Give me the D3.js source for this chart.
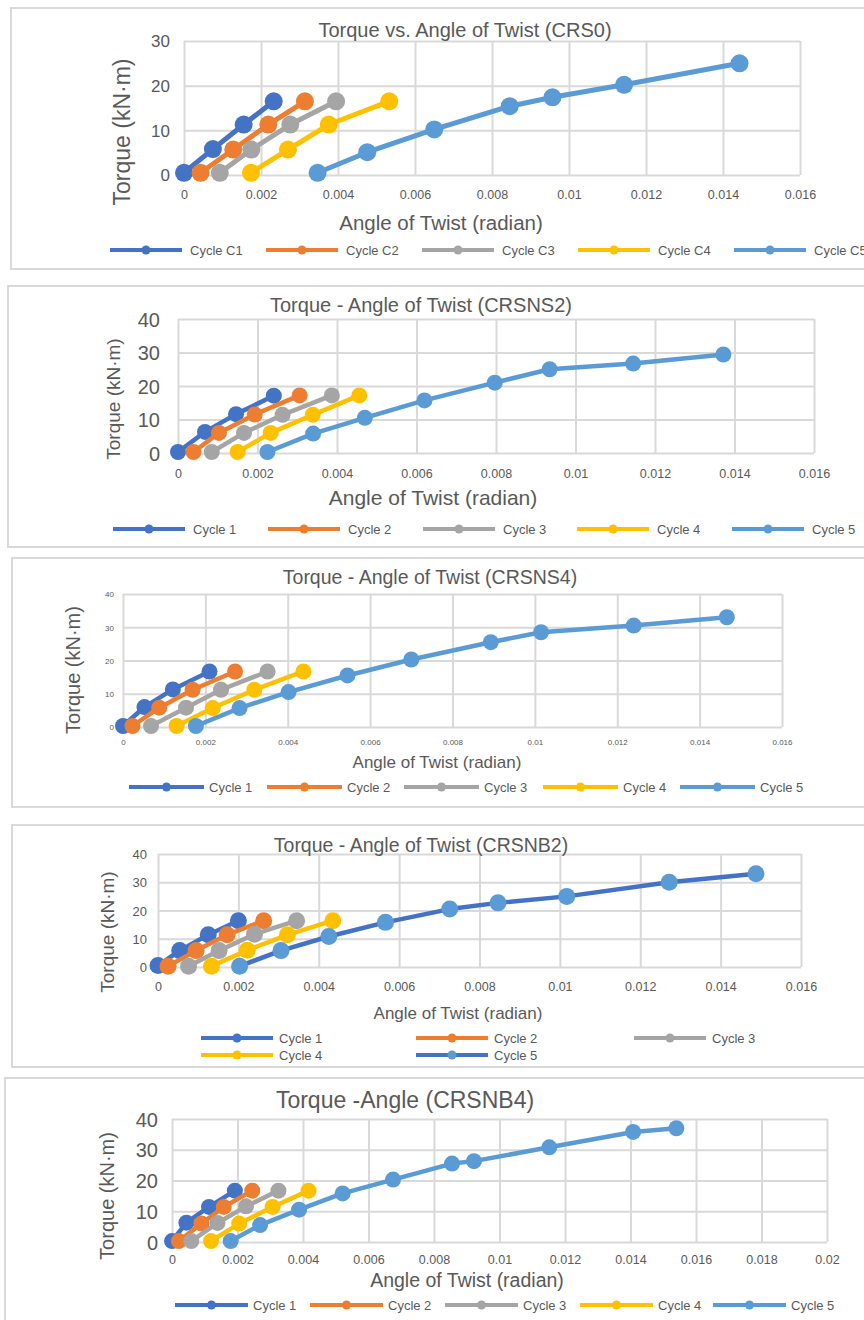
<!DOCTYPE html>
<html>
<head>
<meta charset="utf-8">
<script src="https://cdn.jsdelivr.net/npm/d3@7"></script>
<style>
  body { margin: 0; background: #fff; }
  text { font-family: "Liberation Sans", Arial, sans-serif; fill: #595959; }
</style>
</head>
<body>
<script>
// ---- data ----
const cycleColors = ["#4472C4", "#ED7D31", "#A5A5A5", "#FFC000", "#5B9BD5"];
const crs0Labels = ["Cycle C1", "Cycle C2", "Cycle C3", "Cycle C4", "Cycle C5"];
const cycleLabels = ["Cycle 1", "Cycle 2", "Cycle 3", "Cycle 4", "Cycle 5"];

const xTicks16 = ["0", "0.002", "0.004", "0.006", "0.008", "0.01", "0.012", "0.014", "0.016"];
const xTicks20 = ["0", "0.002", "0.004", "0.006", "0.008", "0.01", "0.012", "0.014", "0.016", "0.018", "0.02"];
const yTicks30 = ["0", "10", "20", "30"];
const yTicks40 = ["0", "10", "20", "30", "40"];

// CRS0
const crs0Angle = [
  [0, 0.00075, 0.00155, 0.00233],
  [0.00043, 0.00128, 0.00219, 0.00314],
  [0.00093, 0.00175, 0.00276, 0.00395],
  [0.00174, 0.0027, 0.00376, 0.00533],
  [0.00347, 0.00476, 0.0065, 0.00846, 0.00957, 0.01143, 0.01443]
];
const crs0Torque = [
  [0.5, 5.8, 11.3, 16.5],
  [0.5, 5.7, 11.3, 16.5],
  [0.5, 5.7, 11.3, 16.5],
  [0.5, 5.7, 11.3, 16.5],
  [0.5, 5.1, 10.2, 15.4, 17.4, 20.2, 25]
];

// CRSNS2
const crsns2Angle = [
  [0, 0.00068, 0.00146, 0.00241],
  [0.00039, 0.00103, 0.00193, 0.00306],
  [0.00085, 0.00166, 0.00263, 0.00387],
  [0.0015, 0.00233, 0.00339, 0.00456],
  [0.00225, 0.0034, 0.0047, 0.0062, 0.00797, 0.00935, 0.01145, 0.01372]
];
const crsns2Torque = [
  [0.3, 6.3, 11.6, 17.1],
  [0.3, 6, 11.5, 17.2],
  [0.3, 6, 11.4, 17.2],
  [0.3, 6, 11.4, 17.2],
  [0.3, 5.8, 10.5, 15.7, 21, 25, 26.7, 29.4]
];

// CRSNS4
const crsns4Angle = [
  [0, 0.00052, 0.00121, 0.0021],
  [0.00023, 0.00088, 0.00169, 0.00272],
  [0.00068, 0.00153, 0.00238, 0.00351],
  [0.0013, 0.00218, 0.00319, 0.00438],
  [0.00177, 0.00283, 0.00402, 0.00545, 0.007, 0.00893, 0.01015, 0.0124, 0.01466]
];
const crsns4Torque = [
  [0.3, 6, 11.3, 16.7],
  [0.3, 5.8, 11.2, 16.7],
  [0.3, 5.8, 11.2, 16.7],
  [0.3, 5.7, 11.2, 16.7],
  [0.3, 5.7, 10.5, 15.5, 20.3, 25.5, 28.5, 30.5, 33]
];

// CRSNB2
const crsnb2Angle = [
  [0, 0.00054, 0.00125, 0.002],
  [0.00025, 0.00095, 0.00172, 0.00263],
  [0.00076, 0.00152, 0.0024, 0.00345],
  [0.00133, 0.00222, 0.00322, 0.00435],
  [0.00203, 0.00306, 0.00425, 0.00566, 0.00726, 0.00846, 0.01017, 0.01272, 0.01488]
];
const crsnb2Torque = [
  [0.5, 5.8, 11.4, 16.4],
  [0.3, 5.8, 11.4, 16.4],
  [0.3, 5.8, 11.6, 16.4],
  [0.3, 5.9, 11.4, 16.4],
  [0.3, 5.8, 10.8, 15.8, 20.5, 22.7, 25, 30, 33]
];

// CRSNB4
const crsnb4Angle = [
  [0, 0.00044, 0.00113, 0.00192],
  [0.00021, 0.0009, 0.00158, 0.00245],
  [0.00059, 0.00139, 0.00226, 0.00325],
  [0.00119, 0.00205, 0.00307, 0.00417],
  [0.00179, 0.00269, 0.00388, 0.00521, 0.00675, 0.00855, 0.00922, 0.01152, 0.01408, 0.0154]
];
const crsnb4Torque = [
  [0.3, 6.3, 11.4, 16.7],
  [0.3, 6, 11.4, 16.7],
  [0.3, 6.2, 11.6, 16.7],
  [0.3, 6, 11.4, 16.7],
  [0.3, 5.5, 10.5, 15.8, 20.3, 25.5, 26.3, 30.8, 35.8, 37]
];

// ---- layout ----
const svg = d3.select("body").append("svg")
  .attr("width", 864).attr("height", 1320);
svg.append("rect").attr("width", 864).attr("height", 1320).attr("fill", "#fff");

const grid = "#d9d9d9";

function drawPanel(p) {
  const g = svg.append("g");
  g.append("rect")
    .attr("x", p.frame[0]).attr("y", p.frame[1])
    .attr("width", p.frame[2]).attr("height", p.frame[3])
    .attr("fill", "#fff").attr("stroke", grid).attr("stroke-width", 2);

  const x = d3.scaleLinear().domain([0, +p.xTicks[p.xTicks.length - 1]]).range([p.l, p.r]);
  const y = d3.scaleLinear().domain([0, +p.yTicks[p.yTicks.length - 1]]).range([p.b, p.t]);

  const gx = g.append("g").attr("transform", `translate(0,${p.b})`)
    .call(d3.axisBottom(x).tickValues(p.xTicks.map(Number))
      .tickFormat((d, i) => p.xTicks[i]).tickSize(-(p.b - p.t)));
  gx.attr("font-family", null).attr("font-size", p.xFs);
  gx.select(".domain").remove();
  gx.selectAll("line").attr("stroke", grid).attr("stroke-width", 2);
  gx.selectAll("text").attr("y", p.xLabY - p.b).attr("dy", "0.35em").attr("fill", "#595959");

  const gy = g.append("g").attr("transform", `translate(${p.l},0)`)
    .call(d3.axisLeft(y).tickValues(p.yTicks.map(Number))
      .tickFormat((d, i) => p.yTicks[i]).tickSize(-(p.r - p.l)));
  gy.attr("font-family", null).attr("font-size", p.yFs);
  gy.select(".domain").remove();
  gy.selectAll("line").attr("stroke", grid).attr("stroke-width", 2);
  gy.selectAll("text").attr("x", p.yLabX - p.l).attr("dy", "0.35em").attr("fill", "#595959");

  g.append("text").attr("x", p.titleX).attr("y", p.titleY)
    .attr("text-anchor", "middle").attr("font-size", p.titleFs).text(p.title);
  g.append("text").attr("x", p.xTitleX).attr("y", p.xTitleY)
    .attr("text-anchor", "middle").attr("font-size", p.xTitleFs).text("Angle of Twist (radian)");
  g.append("text")
    .attr("transform", `translate(${p.yTitleX},${p.yTitleY}) rotate(-90)`)
    .attr("text-anchor", "middle").attr("dy", "0.35em")
    .attr("font-size", p.yTitleFs).text("Torque (kN·m)");

  const line = d3.line().x(d => x(d[0])).y(d => y(d[1]));
  p.angle.forEach((xs, i) => {
    const pts = xs.map((a, j) => [a, p.torque[i][j]]);
    const lc = (p.lineColors && p.lineColors[i]) || cycleColors[i];
    const s = g.append("g");
    s.append("path").datum(pts).attr("d", line)
      .attr("fill", "none").attr("stroke", lc)
      .attr("stroke-width", p.lw).attr("stroke-linejoin", "round");
    s.selectAll("circle").data(pts).join("circle")
      .attr("cx", d => x(d[0])).attr("cy", d => y(d[1]))
      .attr("r", p.mr).attr("fill", cycleColors[i]);
  });

  // legend
  p.labels.forEach((lab, i) => {
    const [lx, ly] = p.legend[i];
    const lc = (p.lineColors && p.lineColors[i]) || cycleColors[i];
    const lg = g.append("g");
    lg.append("line").attr("x1", lx).attr("x2", lx + p.legLen)
      .attr("y1", ly).attr("y2", ly).attr("stroke", lc).attr("stroke-width", 4);
    lg.append("circle").attr("cx", lx + p.legLen / 2).attr("cy", ly)
      .attr("r", 4.5).attr("fill", cycleColors[i]);
    lg.append("text").attr("x", lx + p.legLen + p.legGap).attr("y", ly)
      .attr("dy", "0.35em").attr("font-size", p.legFs).text(lab);
  });
}

const row = (xs, yy) => xs.map(v => [v, yy]);

drawPanel({
  frame: [11, 8, 880, 261], l: 184, r: 800, t: 41, b: 175,
  xTicks: xTicks16, yTicks: yTicks30, angle: crs0Angle, torque: crs0Torque,
  title: "Torque vs. Angle of Twist (CRS0)", titleX: 465, titleY: 37, titleFs: 20,
  yLabX: 170, yFs: 17, xLabY: 195, xFs: 12.5,
  yTitleX: 122, yTitleY: 132, yTitleFs: 23, xTitleX: 441, xTitleY: 230, xTitleFs: 20.5,
  labels: crs0Labels, legend: row([110, 266, 422, 578, 734], 250),
  legLen: 72, legGap: 8, legFs: 13, mr: 9, lw: 5
});

drawPanel({
  frame: [8, 286, 880, 261], l: 178, r: 814, t: 319, b: 453,
  xTicks: xTicks16, yTicks: yTicks40, angle: crsns2Angle, torque: crsns2Torque,
  title: "Torque - Angle of Twist (CRSNS2)", titleX: 421, titleY: 312, titleFs: 20,
  yLabX: 160, yFs: 20, xLabY: 474, xFs: 12.5,
  yTitleX: 113, yTitleY: 399, yTitleFs: 19, xTitleX: 433, xTitleY: 505, xTitleFs: 21,
  labels: cycleLabels, legend: row([113, 268, 423, 577, 732], 529),
  legLen: 72, legGap: 8, legFs: 13, mr: 8, lw: 4.5
});

drawPanel({
  frame: [12, 558, 880, 249], l: 123, r: 782, t: 594, b: 727,
  xTicks: xTicks16, yTicks: yTicks40, angle: crsns4Angle, torque: crsns4Torque,
  title: "Torque - Angle of Twist (CRSNS4)", titleX: 430, titleY: 584, titleFs: 19.5,
  yLabX: 114, yFs: 8, xLabY: 742, xFs: 8,
  yTitleX: 73, yTitleY: 670, yTitleFs: 20, xTitleX: 437, xTitleY: 768, xTitleFs: 17,
  labels: cycleLabels, legend: row([129, 267, 404, 543, 680], 787),
  legLen: 75, legGap: 5, legFs: 13, mr: 8, lw: 4.5
});

drawPanel({
  frame: [12, 825, 880, 242], l: 158, r: 801, t: 854, b: 967,
  xTicks: xTicks16, yTicks: yTicks40, angle: crsnb2Angle, torque: crsnb2Torque,
  title: "Torque - Angle of Twist (CRSNB2)", titleX: 421, titleY: 852, titleFs: 19.5,
  yLabX: 147, yFs: 13, xLabY: 987, xFs: 12.5,
  yTitleX: 107, yTitleY: 932, yTitleFs: 19, xTitleX: 458, xTitleY: 1019, xTitleFs: 17,
  labels: cycleLabels,
  legend: [[201, 1038], [416, 1038], [634, 1038], [201, 1055], [416, 1055]],
  lineColors: [null, null, null, null, "#4472C4"],
  legLen: 72, legGap: 6, legFs: 13, mr: 8.5, lw: 4.5
});

drawPanel({
  frame: [5, 1078, 880, 300], l: 172, r: 827, t: 1119, b: 1242,
  xTicks: xTicks20, yTicks: yTicks40, angle: crsnb4Angle, torque: crsnb4Torque,
  title: "Torque -Angle (CRSNB4)", titleX: 405, titleY: 1108, titleFs: 23,
  yLabX: 158, yFs: 20, xLabY: 1260, xFs: 12.5,
  yTitleX: 107, yTitleY: 1196, yTitleFs: 20, xTitleX: 467, xTitleY: 1287, xTitleFs: 19.5,
  labels: cycleLabels, legend: row([175, 310, 445, 580, 713], 1305),
  legLen: 73, legGap: 5, legFs: 13, mr: 8, lw: 4.5
});
</script>
</body>
</html>
